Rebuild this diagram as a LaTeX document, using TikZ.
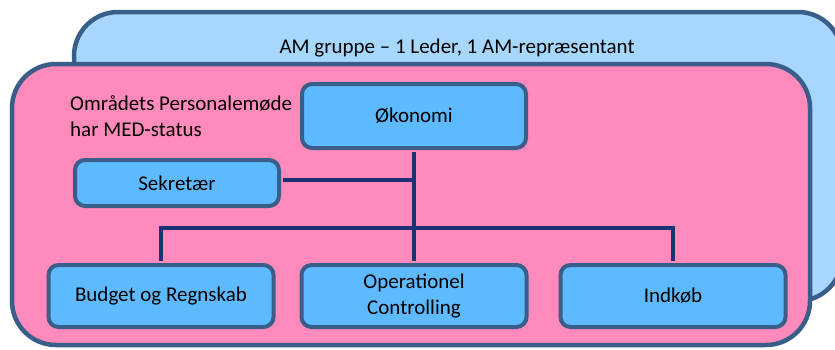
\documentclass[tikz,border=0pt]{standalone}
\usepackage{fontspec}
\setmainfont{Carlito}
\usetikzlibrary{positioning}

\definecolor{amblue}{HTML}{A6D8FE}
\definecolor{medpink}{HTML}{FF8ABB}
\definecolor{unitblue}{HTML}{5EBAFE}
\definecolor{framecol}{HTML}{3A5E8A}
\definecolor{wirecol}{HTML}{1B3374}

\tikzset{
  unit/.style={draw=framecol, fill=unitblue, line width=4pt, rounded corners=10pt,
    minimum width=225pt, minimum height=62pt, align=center, inner sep=0pt,
    font=\fontsize{21}{26}\selectfont},
  group/.style={draw=framecol, line width=4.5pt, rounded corners=44pt},
  label/.style={inner sep=0pt, font=\fontsize{21}{26}\selectfont},
  link/.style={draw=wirecol, line width=3.6pt, shorten <=2pt, shorten >=2pt}
}

\begin{document}
\begin{tikzpicture}[x=1pt,y=-1pt]
\useasboundingbox (0,0) rectangle (835,349);

% outer groups
\draw[group, fill=amblue] (74,12) rectangle (842,301);
\draw[group, fill=medpink] (12,64) rectangle (810,345);
\node[label] (amgrp) at (457,48) {AM gruppe – 1 Leder, 1 AM-repræsentant};
\node[label, anchor=north west, align=left] (med) at (70,95) {Områdets Personalemøde\\har MED-status};

% units
\node[unit, minimum width=224pt, minimum height=64pt] (oko) at (414,116) {Økonomi};
\node[unit, minimum width=204pt, minimum height=46pt] (sek) at (177,183) {Sekretær};
\node[unit] (opctrl) at (414,296) {Operationel\\Controlling};
\node[unit, left=24pt of opctrl] (budget) {Budget og Regnskab};
\node[unit, right=30pt of opctrl] (indkob) {Indkøb};

% wires
\coordinate (bus) at (414,228);
\coordinate (sekout) at ([yshift=3pt]sek.east);
\draw[link] (oko.south) -- (opctrl.north);
\draw[link] (sekout) -- (sekout -| oko.south);
\draw[link] (budget.north) |- (bus) -| (indkob.north);

\end{tikzpicture}
\end{document}
